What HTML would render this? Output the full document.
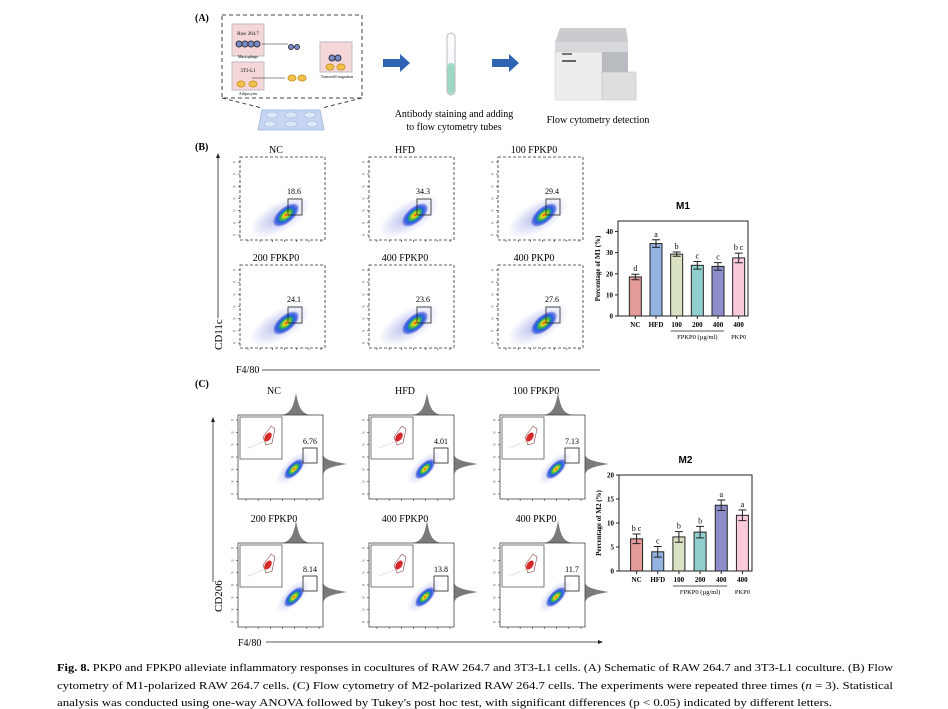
<!DOCTYPE html>
<html><head><meta charset="utf-8">
<style>
html,body{margin:0;padding:0;background:#fff;}
svg{display:block;font-family:"Liberation Serif",serif;}
.s{font-family:"Liberation Sans",sans-serif;}
</style></head>
<body>
<svg id="fig" width="948" height="709" viewBox="0 0 948 709" xmlns="http://www.w3.org/2000/svg">
<defs>
<radialGradient id="dens" cx="50%" cy="50%" r="50%">
<stop offset="0" stop-color="#e8261a"/>
<stop offset="0.18" stop-color="#f3e21c"/>
<stop offset="0.4" stop-color="#36b84a"/>
<stop offset="0.62" stop-color="#1f5ee6"/>
<stop offset="0.85" stop-color="#2a3fd4" stop-opacity="0.6"/>
<stop offset="1" stop-color="#2a3fd4" stop-opacity="0"/>
</radialGradient>
<radialGradient id="halo" cx="50%" cy="50%" r="50%">
<stop offset="0" stop-color="#6a78d8" stop-opacity="0.5"/>
<stop offset="1" stop-color="#6a78d8" stop-opacity="0"/>
</radialGradient>
<linearGradient id="tube" x1="0" y1="0" x2="0" y2="1">
<stop offset="0" stop-color="#fff"/><stop offset="1" stop-color="#eef"/>
</linearGradient>
</defs>

<!-- Panel A -->
<g>
<text x="195" y="21" font-size="10" font-weight="bold">(A)</text>
<rect x="222" y="15" width="140" height="83" fill="none" stroke="#444" stroke-dasharray="4,3"/>
<path d="M222 98 L262 108 M362 98 L322 108" stroke="#444" stroke-dasharray="4,3" fill="none"/>
<rect x="232" y="24" width="32" height="32" fill="#f6d7d9" stroke="#bbb"/>
<text x="248" y="35" font-size="5" text-anchor="middle">Raw 264.7</text>
<g fill="#7a8cc8" stroke="#334"><circle cx="239" cy="44" r="3"/><circle cx="245" cy="44" r="3"/><circle cx="251" cy="44" r="3"/><circle cx="257" cy="44" r="3"/></g>
<text x="248" y="58" font-size="4" text-anchor="middle">Macrophage</text>
<line x1="262" y1="44" x2="288" y2="44" stroke="#222" stroke-width="0.6"/>
<g fill="#7a8cc8" stroke="#334"><circle cx="291" cy="47" r="2.5"/><circle cx="297" cy="47" r="2.5"/></g>
<rect x="232" y="62" width="32" height="28" fill="#f6d7d9" stroke="#bbb"/>
<text x="248" y="72" font-size="5" text-anchor="middle">3T3-L1</text>
<g fill="#f2c24a" stroke="#c9962a"><ellipse cx="241" cy="84" rx="4" ry="3"/><ellipse cx="253" cy="84" rx="4" ry="3"/></g>
<text x="248" y="95" font-size="4" text-anchor="middle">Adipocytes</text>
<line x1="252" y1="78" x2="285" y2="78" stroke="#222" stroke-width="0.6"/>
<g fill="#f2c24a" stroke="#c9962a"><ellipse cx="292" cy="78" rx="4" ry="3"/><ellipse cx="302" cy="78" rx="4" ry="3"/></g>
<rect x="320" y="42" width="32" height="30" fill="#f6d7d9" stroke="#bbb"/>
<g fill="#7a8cc8" stroke="#334"><circle cx="332" cy="58" r="3"/><circle cx="338" cy="58" r="3"/></g>
<g fill="#f2c24a" stroke="#c9962a"><ellipse cx="330" cy="67" rx="4" ry="3"/><ellipse cx="341" cy="67" rx="4" ry="3"/></g>
<text x="337" y="78" font-size="4" text-anchor="middle">Transwell migration</text>
<path d="M262 110 L320 110 L324 130 L258 130 Z" fill="#c6d6f0" stroke="#a8bce0"/>
<g fill="#dce7f7" stroke="#9fb3dc" stroke-width="0.6"><ellipse cx="272" cy="115" rx="6" ry="3"/><ellipse cx="291" cy="115" rx="6" ry="3"/><ellipse cx="310" cy="115" rx="6" ry="3"/><ellipse cx="270" cy="124" rx="6" ry="3"/><ellipse cx="291" cy="124" rx="6" ry="3"/><ellipse cx="312" cy="124" rx="6" ry="3"/></g>
<path d="M383 59 H400 V54 L410 63 L400 72 V67 H383 Z" fill="#2f63b4"/>
<rect x="447" y="33" width="8" height="62" rx="4" fill="url(#tube)" stroke="#bbb"/>
<rect x="447.5" y="63" width="7" height="31" rx="3.5" fill="#9fd9c3"/>
<text x="454" y="117" font-size="10" text-anchor="middle">Antibody staining and adding</text>
<text x="454" y="130" font-size="10" text-anchor="middle">to flow cytometry tubes</text>
<path d="M492 59 H509 V54 L519 63 L509 72 V67 H492 Z" fill="#2f63b4"/>
<g>
<path d="M555 42 L560 28 L626 28 L628 42 Z" fill="#c9cbcf"/>
<rect x="555" y="42" width="73" height="12" fill="#d6d8db"/>
<rect x="555" y="52" width="47" height="48" fill="#eceded" stroke="#ccc" stroke-width="0.5"/>
<rect x="602" y="52" width="26" height="30" fill="#b8bcc0"/>
<rect x="602" y="72" width="34" height="28" fill="#dcdedf" stroke="#bbb" stroke-width="0.5"/>
<rect x="562" y="53" width="10" height="2" fill="#777"/><rect x="562" y="60" width="14" height="2" fill="#666"/>
</g>
<text x="598" y="123" font-size="10" text-anchor="middle">Flow cytometry detection</text>
</g>

<!-- Panel B -->
<g id="panelB">
<text x="195" y="150" font-size="10" font-weight="bold">(B)</text>
<line x1="218" y1="318" x2="218" y2="156" stroke="#222" stroke-width="0.8"/>
<path d="M218 153 l-2 5 h4 z" fill="#222"/>
<text transform="translate(222,350) rotate(-90)" font-size="11">CD11c</text>
<text x="236" y="373" font-size="10">F4/80</text>
<line x1="262" y1="370" x2="600" y2="370" stroke="#222" stroke-width="0.8"/>
</g>

<!-- Panel C -->
<g id="panelC">
<text x="195" y="387" font-size="10" font-weight="bold">(C)</text>
<line x1="213" y1="582" x2="213" y2="420" stroke="#222" stroke-width="0.8"/>
<path d="M213 417 l-2 5 h4 z" fill="#222"/>
<text transform="translate(222,612) rotate(-90)" font-size="11">CD206</text>
<text x="238" y="646" font-size="10">F4/80</text>
<line x1="266" y1="642" x2="600" y2="642" stroke="#222" stroke-width="0.8"/>
<path d="M603 642 l-5 -2 v4 z" fill="#222"/>
</g>

<g id="chartM1"></g>
<g id="chartM2"></g>

<!-- Caption -->
<g font-size="11">
<text x="57" y="671" textLength="836" lengthAdjust="spacingAndGlyphs"><tspan font-weight="bold">Fig. 8.</tspan> PKP0 and FPKP0 alleviate inflammatory responses in cocultures of RAW 264.7 and 3T3-L1 cells. (A) Schematic of RAW 264.7 and 3T3-L1 coculture. (B) Flow</text>
<text x="57" y="689" textLength="836" lengthAdjust="spacingAndGlyphs">cytometry of M1-polarized RAW 264.7 cells. (C) Flow cytometry of M2-polarized RAW 264.7 cells. The experiments were repeated three times (<tspan font-style="italic">n</tspan> = 3). Statistical</text>
<text x="57" y="706" textLength="775" lengthAdjust="spacingAndGlyphs">analysis was conducted using one-way ANOVA followed by Tukey's post hoc test, with significant differences (p &lt; 0.05) indicated by different letters.</text>
</g>
</svg>

<script>
// M1 data
const m1Categories = ["NC","HFD","100","200","400","400"];
const m1Values = [18.5, 34.3, 29.3, 24.0, 23.5, 27.5];
const m1Errors = [1.3, 1.8, 1.0, 1.8, 1.8, 2.3];
const m1Letters = ["d","a","b","c","c","b c"];
const m1Ticks = [0,10,20,30,40];
// M2 data
const m2Categories = ["NC","HFD","100","200","400","400"];
const m2Values = [6.7, 4.0, 7.1, 8.1, 13.7, 11.6];
const m2Errors = [1.0, 1.1, 1.1, 1.2, 1.1, 1.1];
const m2Letters = ["b c","c","b","b","a","a"];
const m2Ticks = [0,5,10,15,20];
// flow gate values
const m1Labels = ["NC","HFD","100 FPKP0","200 FPKP0","400 FPKP0","400 PKP0"];
const m1Gates = ["18.6","34.3","29.4","24.1","23.6","27.6"];
const m2Labels = ["NC","HFD","100 FPKP0","200 FPKP0","400 FPKP0","400 PKP0"];
const m2Gates = ["6.76","4.01","7.13","8.14","13.8","11.7"];

const NS = "http://www.w3.org/2000/svg";
const barColors = ["#e59a9a","#93b3e0","#d9e2c2","#8fd0cf","#8d8dc9","#f9c9dc"];
function mk(tag, attrs, parent, txt){
  const e = document.createElementNS(NS, tag);
  for (const k in attrs) e.setAttribute(k, attrs[k]);
  if (txt !== undefined) e.textContent = txt;
  parent.appendChild(e);
  return e;
}

function barChart(g, cfg, cats, vals, errs, letters, ticks){
  const {x0,x1,yTop,yBot,max,title,ytitle,labY} = cfg;
  const ys = v => yBot - (v/max)*(yBot-yTop);
  const step = (x1-x0-6)/cats.length;
  const xc = i => x0 + 7 + step*(i+0.5);
  const t = mk("text",{x:(x0+x1)/2,y:yTop-12,"font-size":"10","font-weight":"bold","text-anchor":"middle",class:"s"},g,title);
  
  
  const frame = mk("rect",{x:x0,y:yTop,width:x1-x0,height:yBot-yTop,fill:"none",stroke:"#222","stroke-width":"1"},g);
  
  
  ticks.forEach(v=>{
    mk("line",{x1:x0-3,x2:x0,y1:ys(v),y2:ys(v),stroke:"#222"},g);
    const tl = mk("text",{x:x0-5,y:ys(v)+2.5,"font-size":"7","font-weight":"bold","text-anchor":"end"},g,v);
    
    
  });
  const yt = mk("text",{transform:`translate(${x0-18},${(yTop+yBot)/2}) rotate(-90)`,"font-size":"7","font-weight":"bold","text-anchor":"middle"},g,ytitle);
  
  
  const bw = 12;
  cats.forEach((c,i)=>{
    const cx = xc(i), top = ys(vals[i]);
    const b = mk("rect",{x:cx-bw/2,y:top,width:bw,height:yBot-top,fill:barColors[i],stroke:"#222","stroke-width":"1"},g);
    
    
    const e1 = ys(vals[i]+errs[i]), e2 = ys(vals[i]-errs[i]);
    const eb = mk("path",{d:`M${cx} ${e1}V${e2}M${cx-4} ${e1}H${cx+4}M${cx-4} ${e2}H${cx+4}`,stroke:"#222","stroke-width":"1",fill:"none"},g);
    
    
    const lt = mk("text",{x:cx,y:e1-3,"font-size":"8","text-anchor":"middle"},g,letters[i]);
    
    
    mk("line",{x1:cx,x2:cx,y1:yBot,y2:yBot+3,stroke:"#222"},g);
    const cl = mk("text",{x:cx,y:labY,"font-size":"7","font-weight":"bold","text-anchor":"middle"},g,c);
    
    
  });
  mk("line",{x1:xc(2)-6,x2:xc(4)+6,y1:labY+4,y2:labY+4,stroke:"#222","stroke-width":"0.8"},g);
  const f = mk("text",{x:xc(3),y:labY+12,"font-size":"6.5","text-anchor":"middle"},g,"FPKP0 (\u00b5g/ml)");
  
  
  const p = mk("text",{x:xc(5),y:labY+12,"font-size":"6.5","text-anchor":"middle"},g,"PKP0");
  
  
}
barChart(document.getElementById("chartM1"),{x0:618,x1:748,yTop:221,yBot:316,max:45,title:"M1",ytitle:"Percentage of M1 (%)",labY:327},m1Categories,m1Values,m1Errors,m1Letters,m1Ticks);
barChart(document.getElementById("chartM2"),{x0:619,x1:752,yTop:475,yBot:571,max:20,title:"M2",ytitle:"Percentage of M2 (%)",labY:582},m2Categories,m2Values,m2Errors,m2Letters,m2Ticks);

function axTicks(g,x,y,w,h){
  for(let i=0;i<7;i++){ mk("line",{x1:x-2,x2:x,y1:y+5+i*(h-10)/6,y2:y+5+i*(h-10)/6,stroke:"#333","stroke-width":"0.6"},g);
    mk("text",{x:x-6,y:y+6+i*(h-10)/6,"font-size":"3","text-anchor":"middle",fill:"#444"},g,"10");}
  for(let i=0;i<7;i++){ mk("line",{x1:x+8+i*(w-12)/6,x2:x+8+i*(w-12)/6,y1:y+h,y2:y+h+2,stroke:"#333","stroke-width":"0.6"},g);}
}
// Panel B flow plots
const bg = document.getElementById("panelB");
m1Labels.forEach((lab,i)=>{
  const col=i%3,row=Math.floor(i/3);
  const x=240+col*129, y=157+row*108, w=85, h=83;
  const g = mk("g",{},bg);
  
  
  const tt = mk("text",{x:x+36,y:y-4,"font-size":"10","text-anchor":"middle"},g,lab);
  
  
  mk("rect",{x:x,y:y,width:w,height:h,fill:"none",stroke:"#333","stroke-dasharray":"3,2","stroke-width":"0.8"},g);
  axTicks(g,x,y,w,h);
  mk("ellipse",{cx:x+40,cy:y+60,rx:34,ry:15,fill:"url(#halo)",transform:`rotate(-30 ${x+40} ${y+60})`},g);
  mk("ellipse",{cx:x+46,cy:y+58,rx:16,ry:8,fill:"url(#dens)",transform:`rotate(-40 ${x+46} ${y+58})`},g);
  mk("rect",{x:x+48,y:y+42,width:14,height:16,fill:"none",stroke:"#222","stroke-width":"0.8"},g);
  const gl = mk("text",{x:x+54,y:y+37,"font-size":"8","text-anchor":"middle"},g,m1Gates[i]);
  
  
});
// Panel C flow plots
const cg = document.getElementById("panelC");
m2Labels.forEach((lab,i)=>{
  const col=i%3,row=Math.floor(i/3);
  const x=238+col*131, y=415+row*128, w=85, h=84;
  const g = mk("g",{},cg);
  
  
  const tt = mk("text",{x:x+36,y:y-21,"font-size":"10","text-anchor":"middle"},g,lab);
  
  
  mk("path",{d:`M${x+40} ${y} C${x+52} ${y} ${x+55} ${y-6} ${x+58} ${y-22} C${x+61} ${y-6} ${x+64} ${y} ${x+76} ${y} Z`,fill:"#7a7a7a"},g);
  mk("path",{d:`M${x+w} ${y+38} C${x+w} ${y+44} ${x+w+6} ${y+46} ${x+w+24} ${y+49} C${x+w+6} ${y+52} ${x+w} ${y+54} ${x+w} ${y+62} Z`,fill:"#7a7a7a"},g);
  mk("rect",{x:x,y:y,width:w,height:h,fill:"#fff",stroke:"#444","stroke-width":"0.8"},g);
  axTicks(g,x,y,w,h);
  mk("rect",{x:x+2,y:y+2,width:42,height:42,fill:"#fff",stroke:"#444","stroke-width":"0.7"},g);
  mk("path",{d:`M${x+28} ${y+30} L${x+25} ${y+22} L${x+33} ${y+11} L${x+37} ${y+14} L${x+34} ${y+28} Z`,fill:"none",stroke:"#844","stroke-width":"0.6"},g);
  mk("ellipse",{cx:x+30,cy:y+22,rx:3,ry:5,fill:"#d62a2a",transform:`rotate(35 ${x+30} ${y+22})`},g);
  mk("line",{x1:x+10,y1:y+33,x2:x+27,y2:y+26,stroke:"#bbb","stroke-width":"0.8","stroke-dasharray":"1,1"},g);
  mk("ellipse",{cx:x+55,cy:y+53,rx:22,ry:9,fill:"url(#halo)",transform:`rotate(-45 ${x+55} ${y+53})`},g);
  mk("ellipse",{cx:x+56,cy:y+54,rx:13,ry:6,fill:"url(#dens)",transform:`rotate(-45 ${x+56} ${y+54})`},g);
  mk("rect",{x:x+65,y:y+33,width:14,height:15,fill:"none",stroke:"#222","stroke-width":"0.8"},g);
  const gl = mk("text",{x:x+72,y:y+29,"font-size":"8","text-anchor":"middle"},g,m2Gates[i]);
  
  
});
</script>
</body></html>
